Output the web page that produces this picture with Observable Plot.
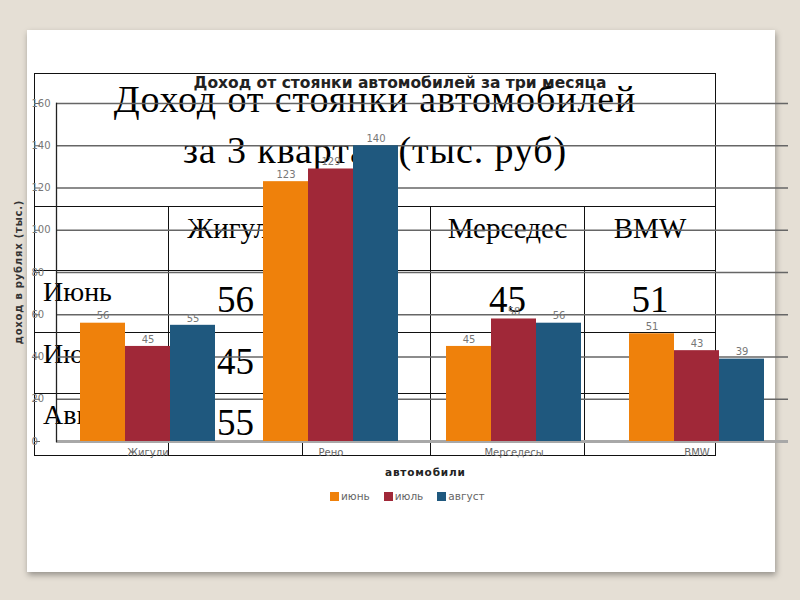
<!DOCTYPE html>
<html>
<head>
<meta charset="utf-8">
<script src="https://cdn.jsdelivr.net/npm/d3@7"></script>
<script src="https://cdn.jsdelivr.net/npm/@observablehq/plot@0.6"></script>
<style>
  html, body { margin: 0; padding: 0; }
  body { width: 800px; height: 600px; background: #e5dfd5; position: relative; overflow: hidden; font-family: "DejaVu Sans", sans-serif; }
  #slide { position: absolute; left: 27px; top: 30px; width: 748px; height: 542px; background: #fff; box-shadow: 1px 3px 6px rgba(0,0,0,0.35); }
  #tbl { position: absolute; left: 34px; top: 73px; width: 681px; border-collapse: collapse; table-layout: fixed; font-family: "Liberation Serif", "Times New Roman", serif; color: #000; }
  #tbl td { border: 1.5px solid #111; padding: 0; vertical-align: top; white-space: nowrap; overflow: hidden; }
  #tbl td.title { text-align: center; font-size: 38px; letter-spacing: 0.9px; line-height: 51px; padding-top: 0px; }
  #tbl td.head { text-align: center; font-size: 29px; line-height: 33px; padding-top: 5px; }
  #tbl td.rowlab { text-align: left; font-size: 28px; line-height: 32px; padding-top: 5px; padding-left: 8px; }
  #tbl td.num { text-align: center; font-size: 37px; line-height: 42px; padding-top: 8px; }
  #chart { position: absolute; left: 0; top: 0; }
  #ctitle { position: absolute; left: 0; top: 74px; width: 800px; text-align: center; font-weight: bold; font-size: 15.5px; color: #222; }
  #xtitle { position: absolute; left: 385px; top: 466px; font-weight: bold; font-size: 10.5px; letter-spacing: 0.8px; color: #222; }
  #ytitle { position: absolute; left: 18px; top: 272px; transform: translate(-50%, -50%) rotate(-90deg); white-space: nowrap; font-weight: bold; font-size: 10px; letter-spacing: 0.8px; color: #333; }
  #legend { position: absolute; left: 330px; top: 490px; display: flex; font-size: 10.5px; color: #666; }
  #legend .item { display: flex; align-items: center; margin-right: 14px; }
  #legend .sw { width: 9px; height: 9px; margin-right: 2px; }
</style>
</head>
<body>
<div id="slide"></div>
<table id="tbl"></table>
<div id="ctitle"></div>
<div id="xtitle"></div>
<div id="ytitle"></div>
<div id="legend"></div>
<div id="chart"></div>
<script>
// ---- data ----
const cars = ["Жигули", "Рено", "Мерседесы", "BMW"];
const months = ["июнь", "июль", "август"];
const june = [56, 123, 45, 51];
const july = [45, 129, 58, 43];
const august = [55, 140, 56, 39];
const yTicks = [0, 20, 40, 60, 80, 100, 120, 140, 160];
const colors = ["#ef810b", "#a02838", "#1f587e"];

const chartTitle = "Доход от стоянки автомобилей за три месяца";
const xTitle = "автомобили";
const yTitle = "доход в рублях (тыс.)";

const slideTitle = ["Доход от стоянки автомобилей", "за 3 квартал (тыс. руб)"];
const tableHeads = ["Жигули", "Рено", "Мерседес", "BMW"];
const rowLabels = ["Июнь", "Июль", "Август"];

const series = [june, july, august];
const data = [];
cars.forEach((c, i) => months.forEach((m, j) => data.push({car: c, month: m, value: series[j][i]})));

// ---- table behind the chart ----
const tbl = document.getElementById("tbl");
const colW = [134, 134, 128, 154, 131];
const rowH = [133, 64, 62, 61, 62];
let html = "<colgroup>" + colW.map(w => `<col style="width:${w}px">`).join("") + "</colgroup>";
html += `<tr style="height:${rowH[0]}px"><td class="title" colspan="5">${slideTitle.join("<br>")}</td></tr>`;
html += `<tr style="height:${rowH[1]}px"><td></td>` + tableHeads.map(h => `<td class="head">${h}</td>`).join("") + "</tr>";
rowLabels.forEach((r, j) => {
  html += `<tr style="height:${rowH[j + 2]}px"><td class="rowlab">${r}</td>` +
    series[j].map(v => `<td class="num">${v}</td>`).join("") + "</tr>";
});
tbl.innerHTML = html;

document.getElementById("ctitle").textContent = chartTitle;
document.getElementById("xtitle").textContent = xTitle;
document.getElementById("ytitle").textContent = yTitle;
document.getElementById("legend").innerHTML = months.map((m, j) =>
  `<div class="item"><div class="sw" style="background:${colors[j]}"></div><span>${m}</span></div>`).join("");

// ---- chart ----
const chart = Plot.plot({
  width: 800,
  height: 600,
  marginLeft: 56,
  marginRight: 12,
  marginTop: 103,
  marginBottom: 159,
  style: {background: "transparent", fontFamily: "DejaVu Sans", overflow: "visible"},
  fx: {domain: cars, padding: 0, label: null},
  x: {domain: months, paddingInner: 0, paddingOuter: 0.5, axis: null},
  y: {domain: [0, 160], label: null},
  color: {domain: months, range: colors},
  marks: [
    Plot.gridY(yTicks, {stroke: "#666", strokeOpacity: 1, strokeWidth: 1.3}),
    Plot.ruleY([0], {stroke: "#a8a8a8", strokeWidth: 3}),
    Plot.barY(data, {fx: "car", x: "month", y: "value", fill: "month"}),
    Plot.text(data, {fx: "car", x: "month", y: "value", text: d => String(d.value), dy: -7, fill: "#777", fontSize: 10}),
    Plot.axisY({ticks: yTicks, tickSize: 6, textAnchor: "start", dx: -16, fill: "#777", stroke: "#666", fontSize: 10, label: null}),
    Plot.axisFx({anchor: "bottom", tickSize: 0, tickPadding: 7, fill: "#666", fontSize: 10, label: null}),
    Plot.frame({anchor: "left", facetAnchor: "left", stroke: "#222", strokeWidth: 1.3})
  ]
});
document.getElementById("chart").appendChild(chart);
</script>
</body>
</html>
